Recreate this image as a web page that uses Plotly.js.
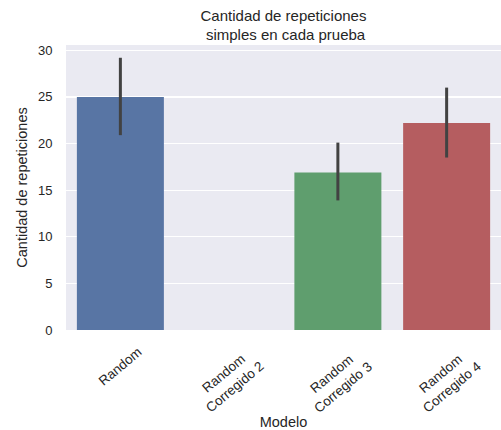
<!DOCTYPE html>
<html>
<head>
<meta charset="utf-8">
<script src="https://cdn.plot.ly/plotly-3.0.1.min.js"></script>
<style>
  html, body { margin: 0; padding: 0; background: #ffffff; }
  #chart { width: 501px; height: 430px; }
</style>
</head>
<body>
<div id="chart"></div>
<script>
// Mean repetitions per model, with the lower/upper ends of each interval
const modelos = ["Random", "Random<br>Corregido 2", "Random<br>Corregido 3", "Random<br>Corregido 4"];
const repeticiones = [25.0, 0, 16.9, 22.2];
const limiteInferior = [20.9, 0, 13.9, 18.5];
const limiteSuperior = [29.2, 0, 20.1, 26.0];
const coloresBarras = ["#5875a4", "#cc8963", "#5f9e6e", "#b55d60"];

const textColor = "#262626";
const fontFamily = "Arial, 'Liberation Sans', sans-serif";
const idx = modelos.map((_, i) => i);

const barras = {
  type: "bar",
  x: idx,
  y: repeticiones,
  width: 0.8,
  marker: { color: coloresBarras, line: { width: 0 } },
  error_y: {
    type: "data",
    symmetric: false,
    array: repeticiones.map((v, i) => limiteSuperior[i] - v),
    arrayminus: repeticiones.map((v, i) => v - limiteInferior[i]),
    color: "#424242",
    thickness: 3,
    width: 0
  },
  hoverinfo: "skip"
};

// Rotated category labels, centred under each bar
const etiquetas = modelos.map((m, i) => ({
  text: m,
  x: i,
  xref: "x",
  y: 0,
  yref: "paper",
  xanchor: "center",
  yanchor: "top",
  yshift: -12,
  textangle: -40,
  showarrow: false,
  font: { family: fontFamily, size: 13.5, color: textColor }
}));

const layout = {
  width: 501,
  height: 430,
  margin: { l: 66, r: 0, t: 45, b: 100, pad: 0 },
  paper_bgcolor: "#ffffff",
  plot_bgcolor: "#eaeaf2",
  showlegend: false,
  font: { family: fontFamily, color: textColor },
  title: {
    text: "Cantidad de repeticiones<br> simples en cada prueba",
    x: 0.5,
    xref: "paper",
    xanchor: "center",
    y: 0.952,
    yref: "container",
    yanchor: "middle",
    font: { family: fontFamily, size: 15, color: textColor }
  },
  xaxis: {
    range: [-0.5, 3.5],
    showgrid: false,
    zeroline: false,
    showticklabels: false,
    ticks: "",
    showline: false,
    fixedrange: true,
    title: {
      text: "Modelo",
      standoff: 88,
      font: { family: fontFamily, size: 14.5, color: textColor }
    },
    automargin: false
  },
  yaxis: {
    range: [0, 30.57],
    dtick: 5,
    tick0: 0,
    showgrid: true,
    gridcolor: "#ffffff",
    gridwidth: 1.3,
    zeroline: false,
    showline: false,
    ticks: "outside",
    ticklen: 10,
    tickcolor: "rgba(0,0,0,0)",
    tickfont: { family: fontFamily, size: 13, color: textColor },
    title: {
      text: "Cantidad de repeticiones",
      standoff: 6,
      font: { family: fontFamily, size: 14.5, color: textColor }
    },
    automargin: false,
    fixedrange: true
  },
  annotations: etiquetas
};

Plotly.newPlot("chart", [barras], layout, { displayModeBar: false, staticPlot: true });
</script>
</body>
</html>
